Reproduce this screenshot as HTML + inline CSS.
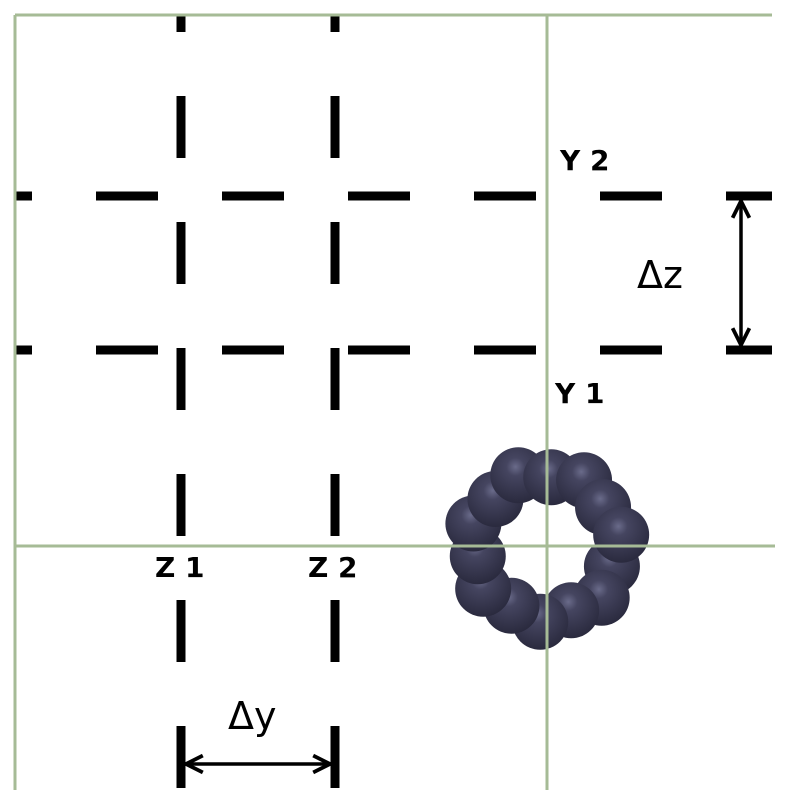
<!DOCTYPE html>
<html><head><meta charset="utf-8"><style>
body{margin:0;background:#fff;}
svg{display:block;}
text{font-family:"DejaVu Sans","Liberation Sans",sans-serif;}
</style></head><body>
<svg width="791" height="797" viewBox="0 0 791 797">
<defs>
<radialGradient id="ball" cx="0.45" cy="0.35" r="0.65">
<stop offset="0" stop-color="#6a6b8a"/><stop offset="0.25" stop-color="#454560"/><stop offset="1" stop-color="#2a2a3e"/>
</radialGradient>
<marker id="ah" viewBox="0 0 10 10" refX="9" refY="5" markerWidth="6" markerHeight="6" orient="auto-start-reverse">
<path d="M1,1 L9,5 L1,9" fill="none" stroke="#000" stroke-width="1.8"/>
</marker>
</defs>
<g stroke="#000" stroke-width="9" stroke-dasharray="62 64">
<line x1="181" y1="-30" x2="181" y2="791"/>
<line x1="335" y1="-30" x2="335" y2="791"/>
<line x1="-30" y1="196" x2="772" y2="196"/>
<line x1="-30" y1="350" x2="772" y2="350"/>
</g>
<rect x="0" y="0" width="14" height="797" fill="#fff"/>
<rect x="0" y="0" width="791" height="14" fill="#fff"/>
<g stroke="#a6bb96" stroke-width="3">
<line x1="15" y1="15" x2="772" y2="15"/>
<line x1="15" y1="15" x2="15" y2="790"/>
</g>
<g id="ring"></g>
<g stroke="#a6bb96" stroke-width="3">
<line x1="547" y1="15" x2="547" y2="790"/>
<line x1="15" y1="546" x2="775" y2="546"/>
</g>
<g>
<line x1="741" y1="201" x2="741" y2="345" stroke="#000" stroke-width="3.5" marker-start="url(#ah)" marker-end="url(#ah)"/>
</g>
<g>
<line x1="186" y1="764" x2="330" y2="764" stroke="#000" stroke-width="3.5" marker-start="url(#ah)" marker-end="url(#ah)"/>
</g>
<text x="560" y="170" font-size="28" font-weight="bold">Y 2</text>
<text x="555" y="403" font-size="28" font-weight="bold">Y 1</text>
<text x="155" y="577" font-size="28" font-weight="bold">Z 1</text>
<text x="308" y="577" font-size="28" font-weight="bold">Z 2</text>
<text x="637" y="288" font-size="38">Δz</text>
<text x="228" y="729" font-size="38">Δy</text>
</svg>
<script>
const ring=document.getElementById('ring');
const ns='http://www.w3.org/2000/svg';
const cx=546,cy=546,n=14;
for(let i=0;i<n;i++){
  const a=i/n*Math.PI*2+0.3;
  const r=72+(i%2?4:-3);
  const c=document.createElementNS(ns,'circle');
  
  
  c.setAttribute('cx',cx+r*Math.cos(a));
  c.setAttribute('cy',cy+r*Math.sin(a));
  c.setAttribute('r',28);
  c.setAttribute('fill','url(#ball)');
  ring.appendChild(c);
}
</script>
</body></html>
